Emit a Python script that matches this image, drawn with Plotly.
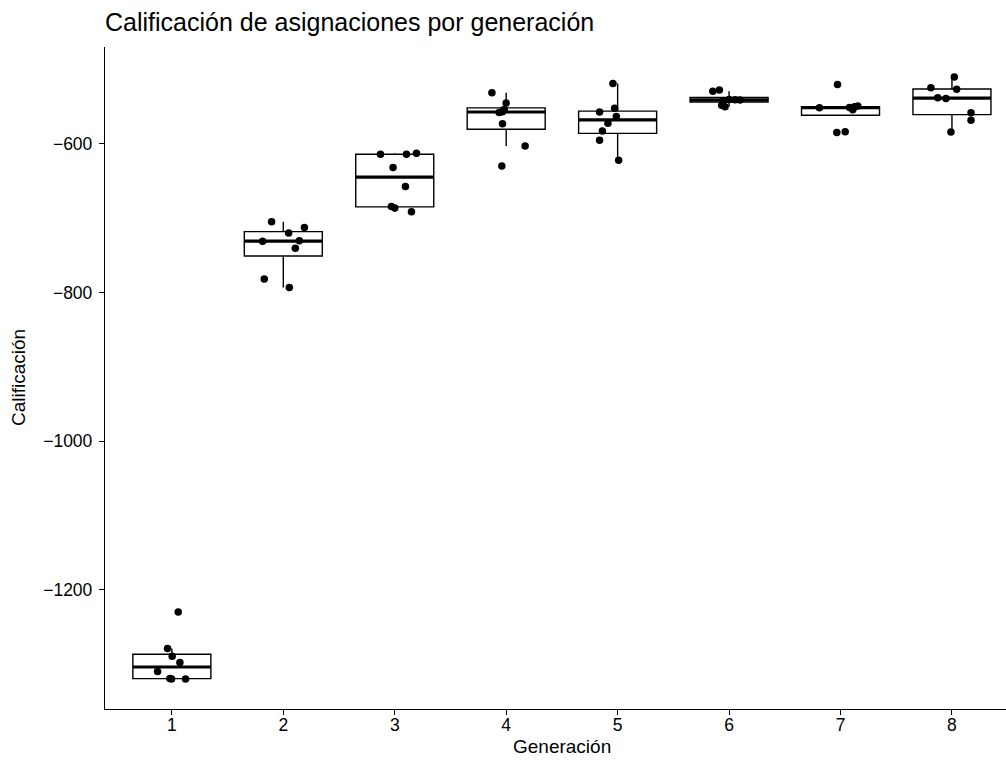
import numpy as np
import plotly.graph_objects as go

# Calificación por generación
generaciones = [1, 2, 3, 4, 5, 6, 7, 8]
calificaciones = [
    [-1230, -1279, -1289.5, -1298, -1310, -1319.5, -1320, -1320],
    [-704.7, -719.9, -712.3, -731.1, -730.2, -740.5, -781.6, -793.3],
    [-613.9, -613.9, -612.5, -631.8, -657.3, -684.2, -686.3, -691.3],
    [-531.1, -545, -557.5, -556.5, -553.5, -572.8, -602.7, -629.5],
    [-518.5, -552, -557, -563, -572, -582.6, -595, -621.9],
    [-527.5, -529, -548, -550, -541, -540.5, -540, -542],
    [-551.1, -551, -549, -554, -584.7, -583.4, -520, -550],
    [-510, -524.4, -526.5, -537.9, -538.9, -558, -568, -584],
]
# desplazamiento horizontal (jitter) de cada punto
jitter = [
    [0.057, -0.039, 0.003, 0.072, -0.128, -0.018, -0.003, 0.123],
    [-0.105, 0.048, 0.189, -0.186, 0.144, 0.108, -0.171, 0.054],
    [-0.128, 0.105, 0.195, -0.015, 0.096, -0.03, 0.0, 0.15],
    [-0.128, 0.0, -0.063, -0.033, -0.018, -0.033, 0.17, -0.039],
    [-0.042, -0.027, -0.162, -0.012, -0.087, -0.137, -0.162, 0.009],
    [-0.087, -0.146, -0.066, -0.036, 0.099, 0.054, 0.0, -0.054],
    [-0.189, 0.081, 0.155, 0.11, -0.033, 0.042, -0.027, 0.126],
    [0.021, -0.189, 0.042, -0.128, -0.054, 0.171, 0.171, -0.009],
]

FONT = "Liberation Sans, Arial, sans-serif"
ANCHO = 0.7

# estadísticos estilo ggplot (cuantiles tipo 7, bigotes 1.5 IQR)
q1s, meds, q3s, lfs, ufs = [], [], [], [], []
for vals in calificaciones:
    v = np.array(vals)
    q1, med, q3 = np.percentile(v, [25, 50, 75])
    iqr = q3 - q1
    q1s.append(q1)
    meds.append(med)
    q3s.append(q3)
    lfs.append(v[v >= q1 - 1.5 * iqr].min())
    ufs.append(v[v <= q3 + 1.5 * iqr].max())

fig = go.Figure()

fig.add_trace(go.Box(
    x=generaciones, q1=q1s, median=meds, q3=q3s,
    lowerfence=lfs, upperfence=ufs,
    width=ANCHO, whiskerwidth=0,
    fillcolor="white", line=dict(color="black", width=1.4),
    boxpoints=False, showlegend=False, hoverinfo="skip",
))

# mediana más gruesa
mx, my = [], []
for g, m in zip(generaciones, meds):
    mx += [g - ANCHO / 2, g + ANCHO / 2, None]
    my += [m, m, None]
fig.add_trace(go.Scatter(x=mx, y=my, mode="lines",
                         line=dict(color="black", width=3.2),
                         showlegend=False, hoverinfo="skip"))

px, py = [], []
for g, vals, jit in zip(generaciones, calificaciones, jitter):
    px += [g + j for j in jit]
    py += vals
fig.add_trace(go.Scatter(x=px, y=py, mode="markers",
                         marker=dict(color="black", size=7.5),
                         showlegend=False))

fig.update_layout(
    width=1006, height=762,
    margin=dict(l=105, r=0, t=47, b=53),
    paper_bgcolor="white", plot_bgcolor="white",
    font=dict(family=FONT, size=17.5, color="black"),
    title=dict(text="Calificación de asignaciones por generación",
               x=0, xref="paper", xanchor="left",
               y=1 - 22 / 762, yref="container", yanchor="middle",
               font=dict(size=25, color="black")),
)
fig.update_xaxes(
    range=[0.4, 8.485], tickvals=generaciones,
    showline=True, linecolor="black", linewidth=1.3,
    ticks="outside", ticklen=5, tickcolor="black", tickwidth=1.3,
    ticklabelstandoff=-5,
    showgrid=False, zeroline=False,
)
fig.update_yaxes(
    range=[-1360.5, -469.5], tickvals=[-1200, -1000, -800, -600],
    showline=True, linecolor="black", linewidth=1.3,
    ticks="outside", ticklen=5, tickcolor="black", tickwidth=1.3,
    ticklabelstandoff=3,
    showgrid=False, zeroline=False,
)

# títulos de ejes
fig.add_annotation(text="Generación", xref="x", x=4.5, yref="paper", y=0,
                   yshift=-37, yanchor="middle", showarrow=False,
                   font=dict(size=19))
fig.add_annotation(text="Calificación", xref="paper", x=0, xshift=-87,
                   xanchor="center", yref="paper", y=0.5, textangle=-90,
                   showarrow=False, font=dict(size=19))

fig.write_html("out.html", config={"displayModeBar": False},
               post_script="document.body.style.margin='0';")
